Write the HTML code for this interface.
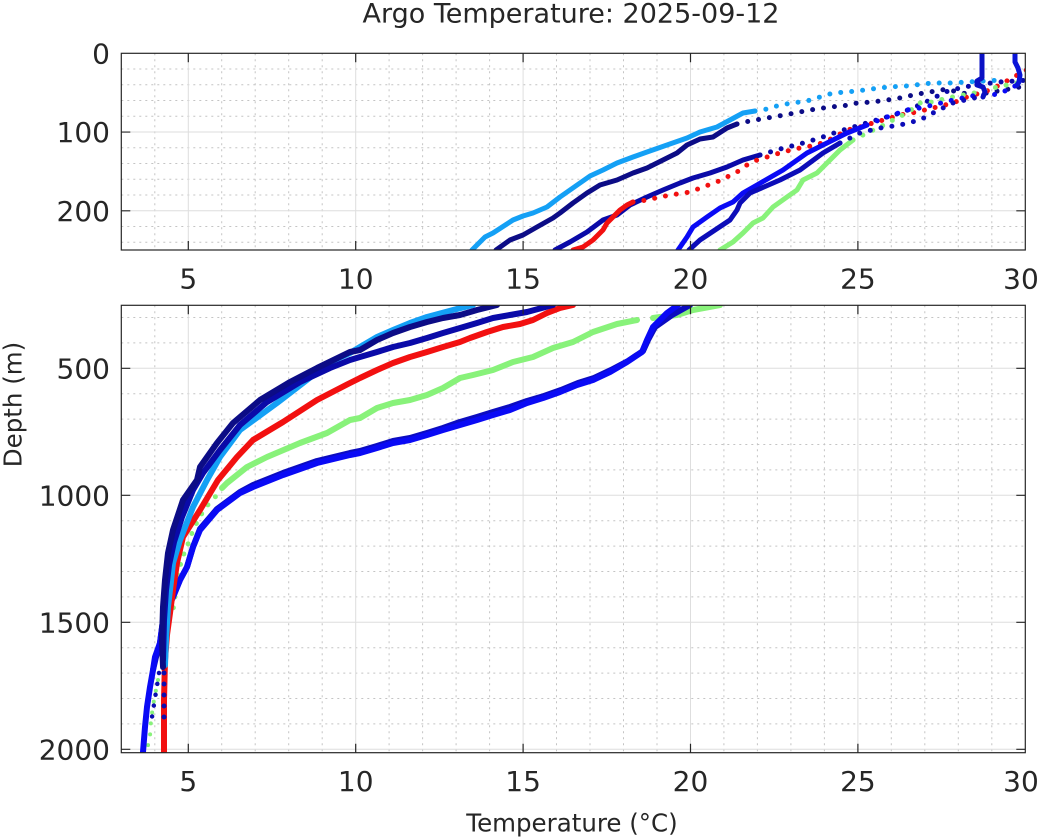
<!DOCTYPE html>
<html><head><meta charset="utf-8"><style>
html,body{margin:0;padding:0;background:#fff;}
svg{display:block;}
text{font-family:"DejaVu Sans","Liberation Sans",sans-serif;fill:#262626;}
.mj{stroke:#dedede;stroke-width:1;fill:none;}
.mn{stroke:#c4c4c4;stroke-width:1;stroke-dasharray:2 4;fill:none;}
.ax{stroke:#262626;stroke-width:1.2;fill:none;}
.s{fill:none;stroke-linecap:round;stroke-linejoin:round;}
.d{fill:none;stroke-linecap:round;stroke-dasharray:0 11;}
</style></head><body>
<svg width="1044" height="840" viewBox="0 0 1044 840" xmlns="http://www.w3.org/2000/svg">
<defs>
<clipPath id="ct"><rect x="121.3" y="53.3" width="904" height="196.7"/></clipPath>
<clipPath id="cb"><rect x="121.3" y="305.3" width="904" height="447.4"/></clipPath>
</defs>
<rect width="1044" height="840" fill="#fff"/>

<!-- TOP PANEL GRID -->
<g>
<path class="mn" d="M154.8 53.3V250M221.7 53.3V250M255.2 53.3V250M288.7 53.3V250M322.2 53.3V250M389.1 53.3V250M422.6 53.3V250M456.1 53.3V250M489.6 53.3V250M556.5 53.3V250M590 53.3V250M623.5 53.3V250M657 53.3V250M723.9 53.3V250M757.4 53.3V250M790.9 53.3V250M824.4 53.3V250M891.3 53.3V250M924.8 53.3V250M958.3 53.3V250M991.8 53.3V250"/>
<path class="mn" d="M121.3 69.05H1025.3M121.3 84.8H1025.3M121.3 100.55H1025.3M121.3 116.3H1025.3M121.3 147.8H1025.3M121.3 163.55H1025.3M121.3 179.3H1025.3M121.3 195.05H1025.3M121.3 226.55H1025.3M121.3 242.3H1025.3"/>
<path class="mj" d="M188.3 53.3V250M355.7 53.3V250M523.1 53.3V250M690.5 53.3V250M857.9 53.3V250M121.3 132.05H1025.3M121.3 210.8H1025.3"/>
</g>

<!-- BOTTOM PANEL GRID -->
<g>
<path class="mn" d="M154.8 305.3V752.7M221.7 305.3V752.7M255.2 305.3V752.7M288.7 305.3V752.7M322.2 305.3V752.7M389.1 305.3V752.7M422.6 305.3V752.7M456.1 305.3V752.7M489.6 305.3V752.7M556.5 305.3V752.7M590 305.3V752.7M623.5 305.3V752.7M657 305.3V752.7M723.9 305.3V752.7M757.4 305.3V752.7M790.9 305.3V752.7M824.4 305.3V752.7M891.3 305.3V752.7M924.8 305.3V752.7M958.3 305.3V752.7M991.8 305.3V752.7"/>
<path class="mn" d="M121.3 317.5H1025.3M121.3 342.9H1025.3M121.3 393.7H1025.3M121.3 419.1H1025.3M121.3 444.5H1025.3M121.3 469.9H1025.3M121.3 520.7H1025.3M121.3 546.1H1025.3M121.3 571.5H1025.3M121.3 596.9H1025.3M121.3 647.7H1025.3M121.3 673.1H1025.3M121.3 698.5H1025.3M121.3 723.9H1025.3"/>
<path class="mj" d="M188.3 305.3V752.7M355.7 305.3V752.7M523.1 305.3V752.7M690.5 305.3V752.7M857.9 305.3V752.7M121.3 368.3H1025.3M121.3 495.3H1025.3M121.3 622.3H1025.3M121.3 749.3H1025.3"/>
</g>

<!-- TOP PANEL DATA -->
<g clip-path="url(#ct)">
<polyline class="s" stroke="#14a0f5" stroke-width="5" points="472,250 485,237 493,233 513,220 523,216 533,213 547,207 560,197 570,190 590,176 603,170 617,163 633,157 647,152 667,145 687,138 700,132 717,127 730,120 743,113 755,111"/>
<polyline class="d" stroke="#14a0f5" stroke-width="5" points="755,111 767,109 780,105 793,103 807,101 820,97 833,93 847,92 857,91 872,89 888,87 907,86 932,83 950,83 1002,80"/>
<polyline class="s" stroke="#0c0c86" stroke-width="5" points="496,250 510,240 523,235 537,227 553,218 560,213 573,203 587,193 600,185 617,180 633,173 647,168 663,160 677,153 687,145 700,139 713,137 727,128 737,124"/>
<polyline class="d" stroke="#0c0c86" stroke-width="5" points="737,124 750,121 767,118 790,114 810,110 830,107 843,106 857,103 873,102 887,100 900,98 913,95 930,92 947,89 960,93 973,94 987,93 1020,87 1030,85"/>
<polyline class="s" stroke="#0a0aa8" stroke-width="5" points="555,250 570,242 587,232 603,220 617,215 630,205 647,197 663,190 680,183 693,178 710,173 727,167 743,160 760,155"/>
<polyline class="d" stroke="#0a0aa8" stroke-width="5" points="760,155 780,149 800,144 820,138 840,131 860,125 880,119 900,113 913,108 930,100 945,92 960,88 975,85 1000,82 1030,80"/>
<polyline class="s" stroke="#f21010" stroke-width="5" points="573,250 583,247 593,240 603,230 607,223 613,217 620,210 627,205 633,202"/>
<polyline class="d" stroke="#f21010" stroke-width="5" points="633,202 647,200 660,197 677,194 690,192 703,187 717,182 727,177 737,172 747,165 757,160 767,157 783,152 800,148 817,145 833,138 847,130 860,127 873,123 887,119 900,115 917,112 933,108 953,103 967,97 990,90 1005,82 1030,68"/>
<polyline class="s" stroke="#88f27a" stroke-width="5" points="720,250 733,242 743,233 753,223 763,218 773,207 787,197 797,190 803,180 817,173 827,163 840,150 853,140"/>
<polyline class="d" stroke="#88f27a" stroke-width="5" points="853,140 867,133 880,127 893,120 907,113 920,103 933,102 947,98 963,95 980,92 993,88 1007,85 1030,80"/>
<polyline class="s" stroke="#0a0af5" stroke-width="5" points="678,250 687,237 693,227 707,217 720,208 733,202 743,193 757,185 783,170 807,153 827,143 847,133 867,125"/>
<polyline class="d" stroke="#0a0af5" stroke-width="5" points="867,125 887,117 907,110 920,108 933,105 953,100 977,95 993,95 1003,92 1017,85"/>
<polyline class="s" stroke="#0a14d8" stroke-width="5" points="1017,85 1019,82 1020,75 1018,68 1015,62 1015,52"/>
<polyline class="s" stroke="#0c0cb8" stroke-width="5" points="689,250 700,240 715,230 730,220 737,210 740,203 750,193 780,180 800,170 823,153 840,143"/>
<polyline class="d" stroke="#0c0cb8" stroke-width="5" points="840,143 860,133 880,128 900,125 920,120 933,113 953,103 973,98 983,97"/>
<polyline class="s" stroke="#0a10c4" stroke-width="5" points="983,97 985,92 983,87 977,85 977,81 982,78 982,52"/>
</g>

<!-- BOTTOM PANEL DATA -->
<g clip-path="url(#cb)">
<polyline class="s" stroke="#88f27a" stroke-width="6" points="720,305 693,310 677,315 660,317 653,318"/>
<polyline class="s" stroke="#88f27a" stroke-width="6" points="637,320 617,324 593,332 573,342 553,348 533,357 513,362 493,370 473,375 460,378 443,388 427,395 410,400 393,403 377,408 360,418 350,420 327,433 300,443 267,457 247,467 227,483 222,488"/>
<polyline class="d" stroke="#88f27a" stroke-width="5" stroke-dasharray="0 13" points="222,488 217,495 205,508 197,522 192,533 187,547 182,558 178,575 175,597 173,610"/>
<polyline class="d" stroke="#88f27a" stroke-width="4" stroke-dasharray="0 13" points="158,680 154,700 151,720 150,736 147,750"/>
<polyline class="s" stroke="#0c0cc0" stroke-width="6" points="690,305 672,315 655,327 648,340 643,351 628,361 611,370 594,378 578,383 561,390 544,396 527,401 510,407 493,412 477,417 460,422 443,428 427,433 410,438 393,441 377,446 360,451 350,453 317,461 283,473 253,485 240,492 217,509 200,529 193,547 187,567 180,580 173,597 167,610 163,620 160,643 156,657 153,670"/>
<polyline class="s" stroke="#0a0af5" stroke-width="6" points="678,305 667,313 653,327 647,340 642,352 627,362 610,372 593,380 577,385 560,392 543,398 527,403 510,410 493,415 477,420 460,425 443,430 427,435 410,440 393,443 377,448 360,453 350,455 317,463 283,475 253,487 240,493 217,510 200,530 193,547 187,567 180,580 173,597 167,610 163,620 160,643 155,657 153,670 150,687 147,707 145,727 143,752"/>
<polyline class="s" stroke="#f21010" stroke-width="6" points="573,305 560,308 547,313 533,320 520,324 503,327 487,332 470,338 460,342 443,347 427,352 410,357 393,363 377,370 360,378 350,383 317,400 283,422 253,440 237,457 218,480 200,510 183,537 177,563 173,590 170,613 167,635 165,660 164,700 164,752"/>
<polyline class="s" stroke="#14a0f5" stroke-width="6" points="473,305 453,310 427,317 410,323 393,330 377,337 360,347 350,353 330,362 303,383 277,403 240,430 220,457 207,480 193,507 180,540 173,563 170,590 168,607 166,640 165,665"/>
<polyline class="s" stroke="#0a0aa8" stroke-width="6" points="553,305 527,312 510,315 493,318 477,323 460,328 443,333 427,338 410,343 393,347 377,352 360,357 350,360 330,368 300,382 267,402 240,425 220,450 203,473 193,490 182,517 174,542 169,565 166,590 164,620 163,660"/>
<polyline class="s" stroke="#0c0c86" stroke-width="6" points="497,305 477,310 460,315 443,318 427,322 410,327 393,333 377,340 360,350 350,352 317,368 290,382 260,400 233,423 217,443 200,467 197,480 183,500 173,530 168,553 165,580 163,607 162,640 163,667"/>
<polyline class="d" stroke="#0c0cb0" stroke-width="5" stroke-dasharray="0 25" points="164,673 164,698 164,723"/>
<polyline class="d" stroke="#0c0cb0" stroke-width="4.5" stroke-dasharray="0 12.5" points="159,673 157,686 155,698 153,711 151,723"/>
</g>

<!-- AXES BOXES -->
<rect class="ax" x="121.3" y="53.3" width="904" height="196.7"/>
<rect class="ax" x="121.3" y="305.3" width="904" height="447.4"/>

<!-- TICKS -->
<path class="ax" d="M188.3 250v-9M355.7 250v-9M523.1 250v-9M690.5 250v-9M857.9 250v-9M188.3 53.3v9M355.7 53.3v9M523.1 53.3v9M690.5 53.3v9M857.9 53.3v9M121.3 132.05h9M121.3 210.8h9M1025.3 132.05h-9M1025.3 210.8h-9"/>
<path class="ax" d="M188.3 752.7v-9M355.7 752.7v-9M523.1 752.7v-9M690.5 752.7v-9M857.9 752.7v-9M188.3 305.3v9M355.7 305.3v9M523.1 305.3v9M690.5 305.3v9M857.9 305.3v9M121.3 368.3h9M121.3 495.3h9M121.3 622.3h9M121.3 749.3h9M1025.3 368.3h-9M1025.3 495.3h-9M1025.3 622.3h-9M1025.3 749.3h-9"/>

<g font-size="28" text-anchor="middle">
<text x="188.3" y="288.3">5</text>
<text x="355.7" y="288.3">10</text>
<text x="523.1" y="288.3">15</text>
<text x="690.5" y="288.3">20</text>
<text x="857.9" y="288.3">25</text>
<text x="1021" y="288.3">30</text>
</g>
<g font-size="28" text-anchor="end">
<text x="110" y="63.5">0</text>
<text x="110" y="142.2">100</text>
<text x="110" y="221">200</text>
</g>
<g font-size="28" text-anchor="middle">
<text x="188.3" y="791">5</text>
<text x="355.7" y="791">10</text>
<text x="523.1" y="791">15</text>
<text x="690.5" y="791">20</text>
<text x="857.9" y="791">25</text>
<text x="1021" y="791">30</text>
</g>
<g font-size="28" text-anchor="end">
<text x="110" y="378.3">500</text>
<text x="110" y="505.3">1000</text>
<text x="110" y="632.3">1500</text>
<text x="110" y="759.3">2000</text>
</g>

<text x="571" y="22.5" font-size="27" text-anchor="middle">Argo Temperature: 2025-09-12</text>
<text x="572" y="831.5" font-size="24.5" text-anchor="middle">Temperature (°C)</text>
<text transform="translate(21.5,404.5) rotate(-90)" font-size="24.5" text-anchor="middle">Depth (m)</text>
</svg>
</body></html>
